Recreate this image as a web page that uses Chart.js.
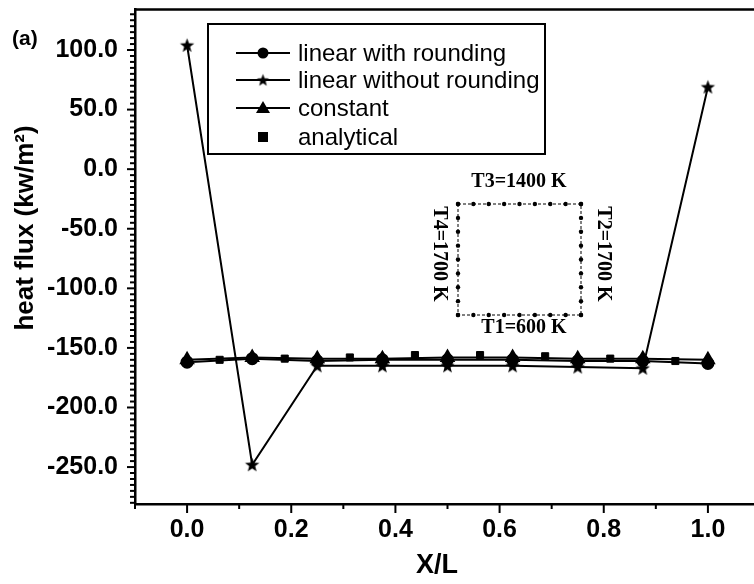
<!DOCTYPE html>
<html>
<head>
<meta charset="utf-8">
<script src="https://cdn.jsdelivr.net/npm/chart.js@4"></script>
<style>
  html, body { margin: 0; padding: 0; background: #fff; overflow: hidden; }
  #wrap { width: 770px; height: 584px; position: relative; }
</style>
</head>
<body>
<div id="wrap"><canvas id="c" width="770" height="584"></canvas></div>
<script>
// ---- data ----
const xNodes = [0, 0.125, 0.25, 0.375, 0.5, 0.625, 0.75, 0.875, 1.0];
const xMid = [0.0625, 0.1875, 0.3125, 0.4375, 0.5625, 0.6875, 0.8125, 0.9375];
const withRounding = [-162, -159, -161, -160, -160, -160, -161, -161, -163];
const withoutRounding = [104, -248, -165, -165, -165, -165, -166, -167, 69];
const constantT = [-160, -158, -159, -159, -158, -158, -159, -159, -160];
const analytical = [-160, -159, -158, -156, -156, -157, -159, -161];
const seriesNames = ['linear with rounding', 'linear without rounding', 'constant', 'analytical'];
const yTickLabels = [-250, -200, -150, -100, -50, 0, 50, 100];
const xTickLabels = [0.0, 0.2, 0.4, 0.6, 0.8, 1.0];
const insetLabels = ['T3=1400 K', 'T2=1700 K', 'T1=600 K', 'T4=1700 K'];

function starImage(r) {
  const s = Math.ceil(r * 2 + 2);
  const c = document.createElement('canvas');
  c.width = s; c.height = s;
  const g = c.getContext('2d');
  g.fillStyle = '#000';
  g.beginPath();
  for (let i = 0; i < 10; i++) {
    const rad = i % 2 === 0 ? r : r * 0.42;
    const a = -Math.PI / 2 + i * Math.PI / 5;
    const px = s / 2 + rad * Math.cos(a), py = s / 2 + rad * Math.sin(a) + r * 0.08;
    if (i === 0) g.moveTo(px, py); else g.lineTo(px, py);
  }
  g.closePath();
  g.fill();
  return c;
}
const star = starImage(7.5);
const starSmall = starImage(6.5);

const pts = (xs, ys) => xs.map((x, i) => ({x: x, y: ys[i]}));

const FONT = "'Liberation Sans', Arial, sans-serif";
const SERIF = "'Liberation Serif', 'Times New Roman', serif";

const decor = {
  id: 'decor',
  afterDraw(chart) {
    const ctx = chart.ctx;
    const xs = chart.scales.x, ys = chart.scales.y;
    const ca = chart.chartArea;
    ctx.save();
    ctx.strokeStyle = '#000';
    ctx.fillStyle = '#000';
    // top frame
    ctx.lineWidth = 2.5;
    ctx.beginPath();
    ctx.moveTo(ca.left, ca.top); ctx.lineTo(ca.right, ca.top);
    ctx.moveTo(ca.right, ca.top); ctx.lineTo(ca.right, ca.bottom);
    ctx.stroke();
    // y ticks (outside, left)
    ctx.lineWidth = 2;
    for (let v = -280; v <= 130; v += 5) {
      const y = ys.getPixelForValue(v);
      const major = v % 50 === 0;
      ctx.beginPath();
      ctx.moveTo(ca.left, y); ctx.lineTo(ca.left - (major ? 8 : 5), y);
      ctx.stroke();
    }
    // x ticks (outside, bottom)
    for (let k = -1; k <= 11; k++) {
      const x = xs.getPixelForValue(k / 10);
      const major = k % 2 === 0;
      ctx.beginPath();
      ctx.moveTo(x, ca.bottom); ctx.lineTo(x, ca.bottom + (major ? 9 : 5));
      ctx.stroke();
    }
    // (a)
    ctx.font = "bold 21px " + FONT;
    ctx.textAlign = 'left'; ctx.textBaseline = 'middle';
    ctx.fillText('(a)', 12, 39);
    // y title
    ctx.save();
    ctx.translate(26, 228);
    ctx.rotate(-Math.PI / 2);
    ctx.font = "bold 26px " + FONT;
    ctx.textAlign = 'center'; ctx.textBaseline = 'middle';
    ctx.fillText('heat flux (kw/m\u00B2)', 0, 0);
    ctx.restore();
    // x title
    ctx.font = "bold 27px " + FONT;
    ctx.textAlign = 'center'; ctx.textBaseline = 'middle';
    ctx.fillText('X/L', 437, 566);

    // legend box
    const lx = 208, ly = 24, lw = 337, lh = 130;
    ctx.lineWidth = 2;
    ctx.strokeRect(lx, ly, lw, lh);
    const rows = [53, 80, 108, 137];
    const styles = ['circle', 'star', 'triangle', 'rect'];
    ctx.font = "24px " + FONT;
    ctx.textAlign = 'left'; ctx.textBaseline = 'middle';
    for (let i = 0; i < 4; i++) {
      const y = rows[i];
      if (i < 3) {
        ctx.lineWidth = 2;
        ctx.beginPath(); ctx.moveTo(236, y); ctx.lineTo(290, y); ctx.stroke();
      }
      const st = styles[i];
      if (st === 'circle') { ctx.beginPath(); ctx.arc(263, y, 5.5, 0, Math.PI * 2); ctx.fill(); }
      else if (st === 'star') { ctx.drawImage(starSmall, 263 - starSmall.width / 2, y - starSmall.height / 2); }
      else if (st === 'triangle') { ctx.beginPath(); ctx.moveTo(263, y - 7); ctx.lineTo(270, y + 5); ctx.lineTo(256, y + 5); ctx.closePath(); ctx.fill(); }
      else { ctx.fillRect(258, y - 5, 10, 10); }
      ctx.fillText(seriesNames[i], 298, y + 1);
    }

    // inset square
    const il = 458, ir = 581, it = 204, ib = 315;
    ctx.lineWidth = 1;
    ctx.setLineDash([3, 2]);
    ctx.strokeRect(il, it, ir - il, ib - it);
    ctx.setLineDash([]);
    for (let i = 0; i <= 8; i++) {
      const x = il + (ir - il) * i / 8;
      const y = it + (ib - it) * i / 8;
      [[x, it], [x, ib], [il, y], [ir, y]].forEach(p => {
        ctx.beginPath(); ctx.arc(p[0], p[1], 2.2, 0, Math.PI * 2); ctx.fill();
      });
    }
    ctx.font = "bold 20px " + SERIF;
    ctx.textAlign = 'center'; ctx.textBaseline = 'middle';
    ctx.fillText(insetLabels[0], 519, 182);
    ctx.fillText(insetLabels[2], 524, 328);
    ctx.save(); ctx.translate(603, 254); ctx.rotate(Math.PI / 2); ctx.fillText(insetLabels[1], 0, 0); ctx.restore();
    ctx.save(); ctx.translate(439, 254); ctx.rotate(Math.PI / 2); ctx.fillText(insetLabels[3], 0, 0); ctx.restore();
    ctx.restore();
  }
};

new Chart(document.getElementById('c'), {
  type: 'scatter',
  data: {
    datasets: [
      { label: seriesNames[0], data: pts(xNodes, withRounding), showLine: true,
        borderColor: '#000', backgroundColor: '#000', borderWidth: 2,
        pointStyle: 'circle', pointRadius: 5.5, pointHoverRadius: 5.5 },
      { label: seriesNames[1], data: pts(xNodes, withoutRounding), showLine: true,
        borderColor: '#000', backgroundColor: '#000', borderWidth: 2,
        pointStyle: star, pointRadius: 7.5 },
      { label: seriesNames[2], data: pts(xNodes, constantT), showLine: true,
        borderColor: '#000', backgroundColor: '#000', borderWidth: 2,
        pointStyle: 'triangle', pointRadius: 7 },
      { label: seriesNames[3], data: pts(xMid, analytical), showLine: false,
        borderColor: '#000', backgroundColor: '#000', borderWidth: 1,
        pointStyle: 'rect', pointRadius: 5 }
    ]
  },
  options: {
    responsive: false,
    animation: false,
    devicePixelRatio: 1,
    layout: { padding: { left: 0, top: 6, right: 10, bottom: 0 } },
    plugins: { legend: { display: false }, tooltip: { enabled: false } },
    scales: {
      x: {
        type: 'linear', min: -0.1, max: 1.1,
        grid: { display: false, drawTicks: false },
        border: { display: true, color: '#000', width: 2.5 },
        afterFit: s => { s.height = 80; s.paddingLeft = 0; s.paddingRight = 0; },
        afterBuildTicks: s => { s.ticks = xTickLabels.map(v => ({value: v})); },
        ticks: { color: '#000', font: { family: FONT, size: 25, weight: 'bold' }, padding: 11,
                 maxRotation: 0, autoSkip: false, callback: v => v.toFixed(1) }
      },
      y: {
        type: 'linear', min: -281, max: 134,
        grid: { display: false, drawTicks: false },
        border: { display: true, color: '#000', width: 2.5 },
        afterFit: s => { s.width = 135; s.paddingTop = 0; s.paddingBottom = 0; },
        afterBuildTicks: s => { s.ticks = yTickLabels.map(v => ({value: v})); },
        ticks: { color: '#000', font: { family: FONT, size: 25, weight: 'bold' }, padding: 17,
                 autoSkip: false, callback: v => v.toFixed(1) }
      }
    }
  },
  plugins: [decor]
});
</script>
</body>
</html>
